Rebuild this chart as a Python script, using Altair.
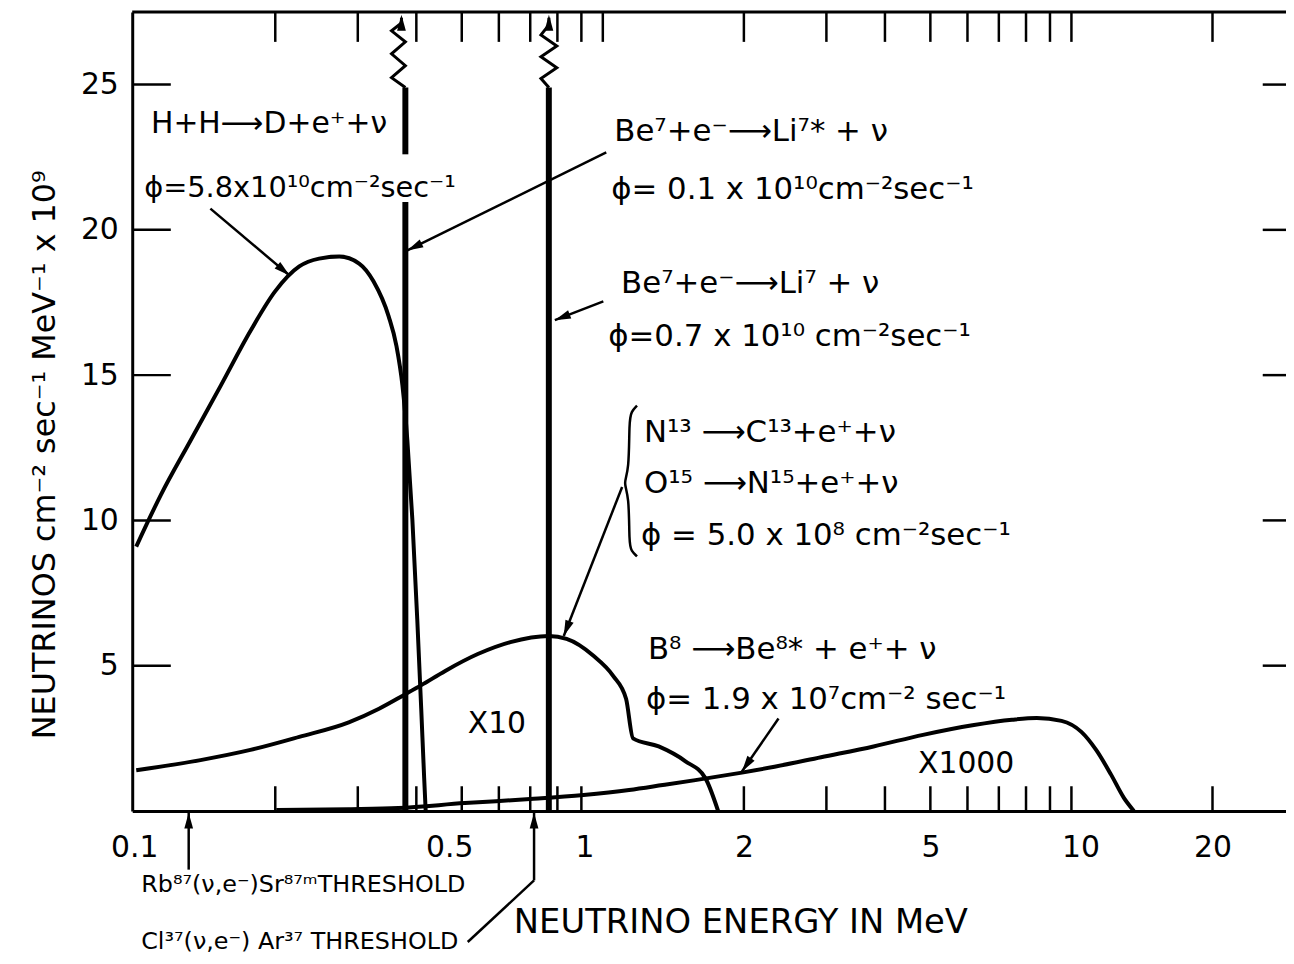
import math
import altair as alt
import pandas as pd

FONT = "DejaVu Sans"

# ---------------- values ----------------
# energy in MeV, flux in 1e9 neutrinos cm^-2 sec^-1 MeV^-1 (as drawn)
pp_energy = [0.101, 0.114, 0.132, 0.153, 0.177, 0.200, 0.225, 0.248, 0.274, 0.302,
             0.324, 0.349, 0.3628, 0.3736, 0.3827, 0.3923, 0.4018, 0.4097, 0.4157, 0.4188]
pp_flux = [9.10, 10.88, 12.76, 14.64, 16.52, 17.89, 18.74, 19.01, 19.08, 18.84,
           18.23, 17.03, 16.00, 14.64, 12.76, 10.02, 6.60, 3.52, 1.13, 0.0]

cno_energy = [0.101, 0.1385, 0.177, 0.225, 0.287, 0.333, 0.379, 0.410, 0.461, 0.541,
              0.635, 0.767, 0.837, 0.955, 1.052, 1.121, 1.160, 1.316, 1.501, 1.655, 1.762]
cno_flux = [1.40, 1.75, 2.10, 2.55, 3.05, 3.52, 4.02, 4.33, 4.82, 5.40,
            5.81, 6.02, 5.92, 5.34, 4.65, 3.86, 2.50, 2.22, 1.71, 1.13, 0.0]

b8_energy = [0.201, 0.287, 0.366, 0.5075, 0.6995, 0.9097, 1.1376, 1.3421, 1.576, 1.981,
             2.325, 2.922, 3.782, 4.823, 6.148, 7.469, 8.436, 9.525, 10.50, 11.29, 12.15,
             12.94, 13.59]
b8_flux = [0.03, 0.06, 0.10, 0.27, 0.41, 0.55, 0.72, 0.89, 1.06, 1.32,
           1.52, 1.85, 2.22, 2.62, 2.95, 3.14, 3.20, 3.10, 2.72, 2.10, 1.25,
           0.45, 0.0]

# Be7 lines as drawn (x position, vertical segments)
line_energy = [0.379, 0.379, 0.767]
line_from = [0.0, 22.6, 0.0]
line_to = [20.96, 24.9, 24.9]

# zig-zag "off scale" breaks above the two lines
zz_be7s_energy = [0.379, 0.3541, 0.379, 0.3541, 0.379, 0.3541, 0.3718, 0.3718]
zz_be7s_flux = [24.90, 25.24, 25.65, 26.06, 26.47, 26.85, 27.12, 27.30]
zz_be7_energy = [0.7673, 0.7379, 0.7976, 0.7379, 0.7976, 0.7379, 0.7673, 0.7673]
zz_be7_flux = [24.90, 25.21, 25.58, 25.96, 26.33, 26.71, 27.05, 27.30]

# brace grouping the CNO labels
brace_energy = [1.183, 1.150, 1.138, 1.138, 1.105, 1.138, 1.138, 1.150, 1.183]
brace_flux = [13.95, 13.75, 13.40, 11.70, 11.29, 10.88, 9.20, 8.95, 8.76]

# annotation arrows: tail -> tip
arrow_tail_E = [0.1454, 1.017, 1.0025, 1.0995, 2.371, 0.1307, 0.7133, 0.5149]
arrow_tail_F = [20.73, 22.67, 17.54, 11.15, 3.18, -2.02, -2.39, -4.51]
arrow_tip_E = [0.2146, 0.3827, 0.790, 0.8253, 1.981, 0.1307, 0.7133, 0.7133]
arrow_tip_F = [18.43, 19.29, 16.89, 6.02, 1.36, -0.06, -0.06, -2.39]
arrow_head = [True, True, True, True, True, True, True, False]

# annotation texts (left x, baseline y in data units)
note_text = [
    "H+H⟶D+e⁺+ν",
    "ϕ=5.8x10¹⁰cm⁻²sec⁻¹",
    "Be⁷+e⁻⟶Li⁷* + ν",
    "ϕ= 0.1 x 10¹⁰cm⁻²sec⁻¹",
    "Be⁷+e⁻⟶Li⁷ + ν",
    "ϕ=0.7 x 10¹⁰ cm⁻²sec⁻¹",
    "N¹³ ⟶C¹³+e⁺+ν",
    "O¹⁵ ⟶N¹⁵+e⁺+ν",
    "ϕ = 5.0 x 10⁸ cm⁻²sec⁻¹",
    "B⁸ ⟶Be⁸* + e⁺+ ν",
    "ϕ= 1.9 x 10⁷cm⁻² sec⁻¹",
    "X10",
    "X1000",
    "Rb⁸⁷(ν,e⁻)Sr⁸⁷ᵐTHRESHOLD",
    "Cl³⁷(ν,e⁻) Ar³⁷ THRESHOLD",
]
note_E = [0.1086, 0.1050, 1.058, 1.042, 1.094, 1.027, 1.224, 1.224, 1.206, 1.248,
          1.236, 0.5149, 4.706, 0.1035, 0.1035]
note_F = [23.32, 21.14, 23.05, 21.07, 17.82, 16.01, 12.69, 10.94, 9.17, 5.23,
          3.52, 2.67, 1.30, -2.80, -4.75]
note_size = [30, 29, 31, 31, 31, 31, 31, 31, 31, 31, 31, 30, 30, 24, 24]

# axis ticks and labels
x_tick_bottom = [0.2, 0.3, 0.4, 0.5, 0.6, 0.7, 0.8, 0.9, 2, 3, 4, 5, 6, 7, 8, 9, 10, 20]
x_tick_top = [0.2, 0.3, 0.4, 0.5, 0.6, 0.7, 0.8, 0.9, 1.0, 2, 3, 4, 5, 6, 7, 8, 9, 10, 20]
x_label_pos = [0.1, 0.470, 0.914, 2, 5, 10.45, 20]
x_label_text = ["0.1", "0.5", "1", "2", "5", "10", "20"]
y_ticks = [5, 10, 15, 20, 25]

# ---------------- layout ----------------
X_MIN, X_MAX = 0.09903, 28.7
Y_MIN, Y_MAX = 0.0, 27.5
W, H = 1161, 804
PAD = {"left": 125, "top": 1, "right": 0, "bottom": 145}

LOGSPAN = math.log10(X_MAX / X_MIN)


def vx(e):
    return W * math.log10(e / X_MIN) / LOGSPAN


def vy(f):
    return H * (1 - (f - Y_MIN) / (Y_MAX - Y_MIN))


def head_angle(e0, f0, e1, f1):
    dx = vx(e1) - vx(e0)
    dy = vy(f1) - vy(f0)
    return math.degrees(math.atan2(dx, -dy)) % 360


xs = alt.Scale(type="log", domain=[X_MIN, X_MAX], nice=False)
ys = alt.Scale(domain=[Y_MIN, Y_MAX], nice=False, zero=False)

label_expr = "".join(
    f"abs(datum.value - {v}) < 1e-6 ? '{t}' : " for v, t in zip(x_label_pos, x_label_text)
) + "''"

x_axis = alt.Axis(
    values=x_label_pos, labelExpr=label_expr, ticks=False, grid=False,
    domain=True, domainColor="black", domainWidth=3,
    labelFont=FONT, labelFontSize=30, labelColor="black", labelPadding=22,
    labelFlush=False, labelOverlap=False,
    title="NEUTRINO ENERGY IN MeV", titleFont=FONT, titleFontSize=34,
    titleFontWeight="normal", titleColor="black",
    titleX=612, titleY=122, titleBaseline="alphabetic",
)
y_axis = alt.Axis(
    values=y_ticks, ticks=False, grid=False,
    domain=True, domainColor="black", domainWidth=3,
    labelFont=FONT, labelFontSize=30, labelColor="black", labelPadding=14,
    labelFlush=False,
    title="NEUTRINOS cm⁻² sec⁻¹ MeV⁻¹ x 10⁹", titleFont=FONT, titleFontSize=32,
    titleFontWeight="normal", titleColor="black",
    titleX=-78, titleY=445, titleAngle=270, titleBaseline="alphabetic",
)

# ---------------- data tables ----------------
rows = []
for name, es, fs in [("pp", pp_energy, pp_flux), ("cno", cno_energy, cno_flux),
                     ("b8", b8_energy, b8_flux)]:
    for i, (e, f) in enumerate(zip(es, fs)):
        rows.append({"E": e, "F": f, "series": name, "idx": i})
curves = pd.DataFrame(rows)

lines_df = pd.DataFrame({"E": line_energy, "F0": line_from, "F1": line_to})

zz_rows = []
for name, es, fs in [("be7s", zz_be7s_energy, zz_be7s_flux), ("be7", zz_be7_energy, zz_be7_flux)]:
    for i, (e, f) in enumerate(zip(es, fs)):
        zz_rows.append({"E": e, "F": f, "series": name, "idx": i})
zz_df = pd.DataFrame(zz_rows)

brace_df = pd.DataFrame({"E": brace_energy, "F": brace_flux, "idx": list(range(len(brace_energy)))})

arrows_df = pd.DataFrame({"E0": arrow_tail_E, "F0": arrow_tail_F, "E1": arrow_tip_E, "F1": arrow_tip_F})
heads = []
for e0, f0, e1, f1, h in zip(arrow_tail_E, arrow_tail_F, arrow_tip_E, arrow_tip_F, arrow_head):
    if h:
        heads.append({"E": e1, "F": f1, "ang": head_angle(e0, f0, e1, f1)})
for es, fs in [(zz_be7s_energy, zz_be7s_flux), (zz_be7_energy, zz_be7_flux)]:
    heads.append({"E": es[-1], "F": fs[-1] + 0.1, "ang": 0.0})
heads_df = pd.DataFrame(heads)

notes_df = pd.DataFrame({"E": note_E, "F": note_F, "t": note_text, "fs": note_size})

tick_rows = []
for v in x_tick_bottom:
    tick_rows.append({"E0": v, "E1": v, "F0": Y_MIN, "F1": Y_MIN + 0.85})
for v in x_tick_top:
    tick_rows.append({"E0": v, "E1": v, "F0": Y_MAX, "F1": Y_MAX - 1.03})
for v in y_ticks:
    tick_rows.append({"E0": X_MIN, "E1": 0.1197, "F0": v, "F1": v})
    tick_rows.append({"E0": 25.6, "E1": X_MAX, "F0": v, "F1": v})
ticks_df = pd.DataFrame(tick_rows)

frame_df = pd.DataFrame({"E0": [X_MIN], "E1": [X_MAX], "F0": [Y_MAX]})

HEAD = "M0,0L0.55,2L-0.55,2Z"


def X(field):
    return alt.X(field, type="quantitative", scale=xs, axis=x_axis)


def Y(field):
    return alt.Y(field, type="quantitative", scale=ys, axis=y_axis)


# ---------------- layers ----------------
curve_layer = alt.Chart(curves).mark_line(color="black", strokeWidth=4, interpolate="monotone").encode(
    x=X("E"), y=Y("F"), detail="series:N", order="idx:Q",
)

be7_layer = alt.Chart(lines_df).mark_rule(color="black", strokeWidth=6).encode(
    x=X("E"), y=Y("F0"), y2="F1:Q",
)

zz_layer = alt.Chart(zz_df).mark_line(color="black", strokeWidth=3).encode(
    x=X("E"), y=Y("F"), detail="series:N", order="idx:Q",
)

brace_layer = alt.Chart(brace_df).mark_line(color="black", strokeWidth=2.5, interpolate="basis").encode(
    x=X("E"), y=Y("F"), order="idx:Q",
)

arrow_layer = alt.Chart(arrows_df).mark_rule(color="black", strokeWidth=2.5).encode(
    x=X("E0"), x2="E1:Q", y=Y("F0"), y2="F1:Q",
)

head_layer = alt.Chart(heads_df).mark_point(shape=HEAD, filled=True, color="black", size=256,
                                            opacity=1, strokeWidth=0).encode(
    x=X("E"), y=Y("F"), angle=alt.Angle("ang:Q", scale=None),
)

tick_layer = alt.Chart(ticks_df).mark_rule(color="black", strokeWidth=2.5).encode(
    x=X("E0"), x2="E1:Q", y=Y("F0"), y2="F1:Q",
)

frame_layer = alt.Chart(frame_df).mark_rule(color="black", strokeWidth=3).encode(
    x=X("E0"), x2="E1:Q", y=Y("F0"),
)

text_layer = alt.Chart(notes_df).mark_text(font=FONT, align="left", baseline="alphabetic",
                                           color="black").encode(
    x=X("E"), y=Y("F"), text="t:N", size=alt.Size("fs:Q", scale=None),
)

chart = alt.layer(
    curve_layer, be7_layer, zz_layer, brace_layer, arrow_layer, head_layer,
    tick_layer, frame_layer, text_layer,
).properties(
    width=W, height=H, padding=PAD, autosize=alt.AutoSizeParams(type="none"),
    background="white",
).configure_view(strokeWidth=0)

chart.save("out.html", embed_options={"renderer": "svg", "actions": False})
